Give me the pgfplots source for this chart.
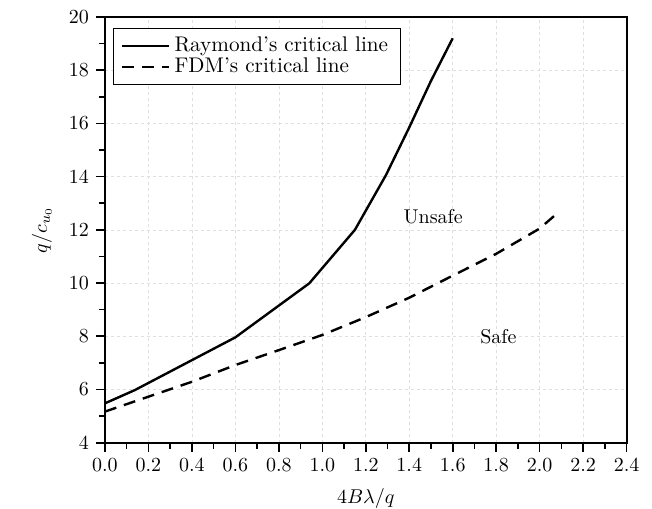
\documentclass[border=0pt]{standalone}
\usepackage{pgfplots}
\pgfplotsset{compat=1.18}
\begin{document}
\begin{tikzpicture}
\begin{axis}[
  name=ax,
  scale only axis,
  width=261pt, height=213pt,
  xmin=0, xmax=2.4, ymin=4, ymax=20,
  xtick={0,0.2,...,2.41}, ytick={4,6,...,20},
  minor x tick num=1, minor y tick num=1,
  tick pos=left, tick align=outside,
  major tick length=4.5pt, minor tick length=3pt,
  every tick/.style={black, line width=0.8pt},
  axis line style={line width=1pt},
  xticklabel style={/pgf/number format/fixed, /pgf/number format/fixed zerofill, /pgf/number format/precision=1},
  grid=major,
  grid style={gray!25, dash pattern=on 1.5pt off 1.5pt, line width=0.3pt},
  xlabel={$4B\lambda/q$},
  ylabel={$q/c_{u_0}$},
  xlabel style={at={(axis description cs:0.5,0)}, anchor=center, yshift=-27.7pt},
  ylabel style={at={(axis description cs:-0.1207,0.5)}, anchor=center},
  legend style={at={(0,1)}, anchor=north west, xshift=3.9pt, yshift=-5.6pt,
    draw=black, line width=0.5pt, inner xsep=4pt, inner ysep=3.5pt,
    nodes={inner ysep=0.8pt}, row sep=0pt,
    font=\fontsize{10.6pt}{12pt}\selectfont},
  legend cell align=left,
  legend image code/.code={\draw[#1] (0pt,0pt) -- (23.5pt,0pt);},
]
\addplot[black, line width=1.2pt] coordinates {
(0,5.48) (0.138,5.98) (0.6,7.96) (0.94,9.99) (1.15,12.0) (1.293,14.06) (1.4,15.85) (1.5,17.6) (1.6,19.2)};
\addlegendentry{Raymond's critical line}
\addplot[black, line width=1.2pt, dash pattern=on 6pt off 4pt] coordinates {
(0,5.17) (0.2,5.73) (0.4,6.29) (0.6,6.92) (0.8,7.48) (1.0,8.05) (1.2,8.72) (1.4,9.45) (1.6,10.28) (1.8,11.1) (2.0,12.05) (2.093,12.71)};
\addlegendentry{FDM's critical line}
\node at (axis cs:1.51,12.5) {Unsafe};
\node at (axis cs:1.81,7.97) {Safe};
\end{axis}
\pgfresetboundingbox
\path[use as bounding box] ([xshift=-52.5pt,yshift=-32.7pt]ax.south west) rectangle ([xshift=12.7pt,yshift=8.5pt]ax.north east);
\end{tikzpicture}
\end{document}
